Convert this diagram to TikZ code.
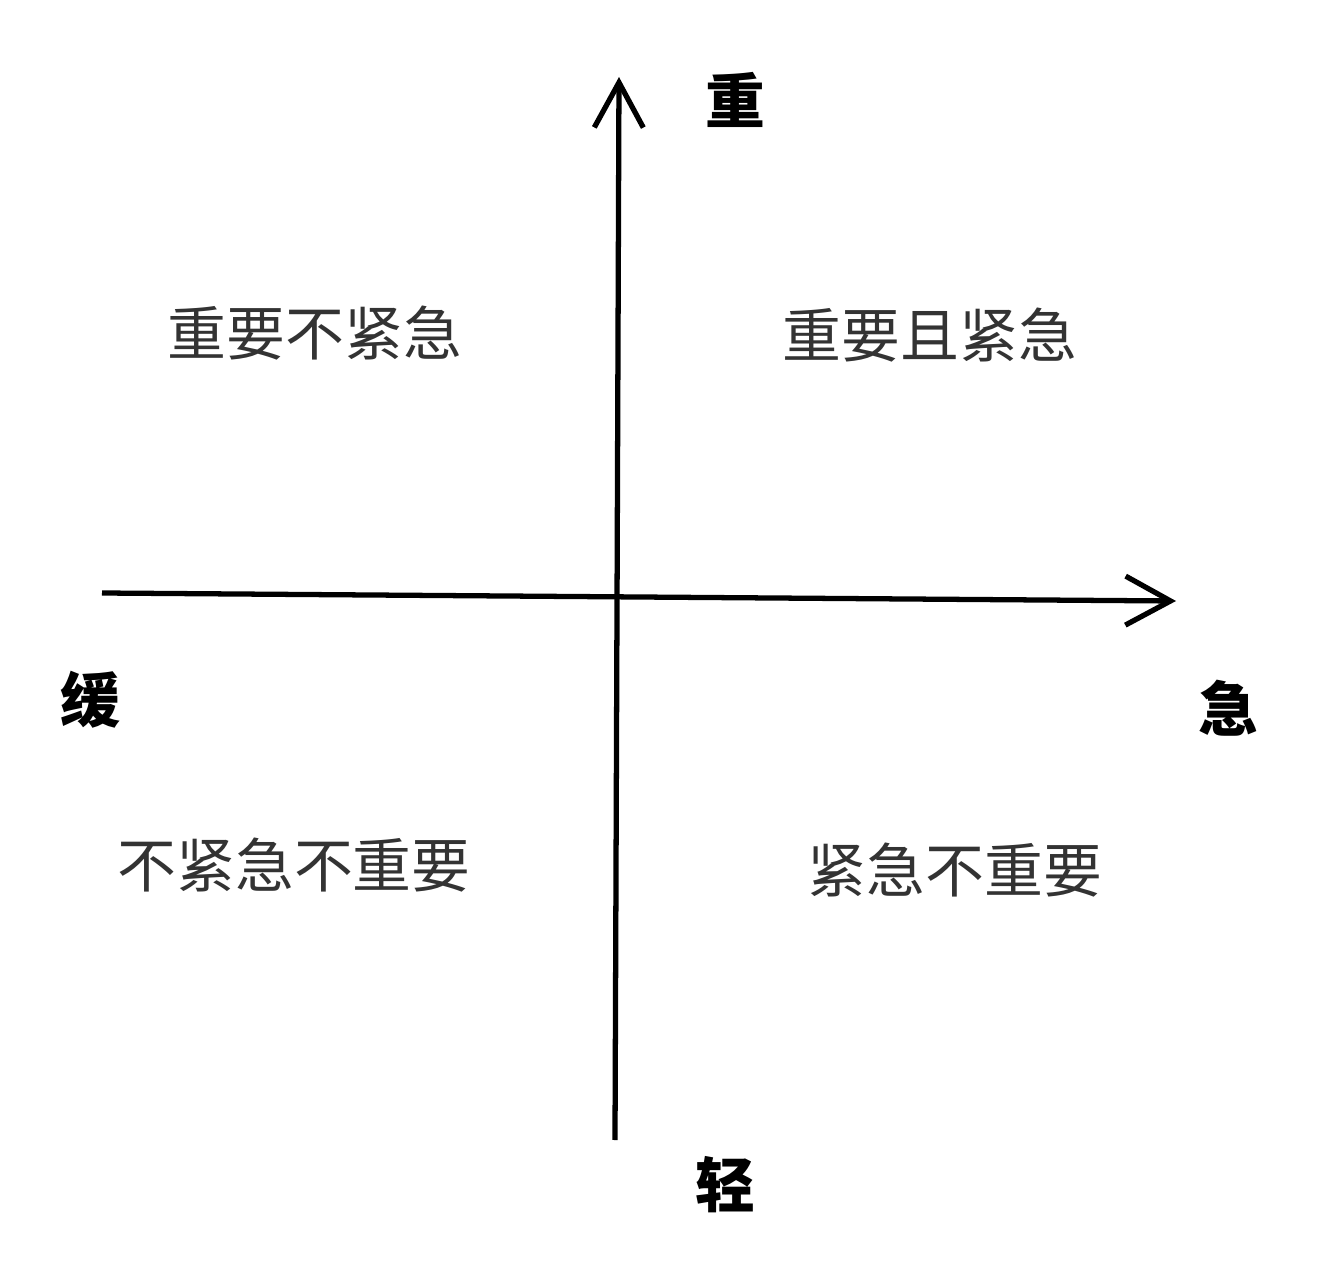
\documentclass[tikz,border=0pt]{standalone}
\usepackage{fontspec}
\newfontfamily\cjk{Noto Sans CJK SC}
\usetikzlibrary{arrows.meta}
\begin{document}
\begin{tikzpicture}[x=0.02cm,y=-0.02cm,
  axis/.style={line width=3pt,-{Straight Barb[length=0.9cm,width=0.98cm,line width=3pt]}},
  axislabel/.style={font=\cjk\bfseries\fontsize{34pt}{34pt}\selectfont,text=black,inner sep=0pt},
  quadlabel/.style={font=\cjk\fontsize{33.5pt}{33.5pt}\selectfont,text=black!80,inner sep=0pt}]
\useasboundingbox (0,0) rectangle (1340,1280);
\coordinate (xs) at (102,593);
\coordinate (xe) at (1176,601);
\coordinate (ys) at (615,1140);
\coordinate (ye) at (619,77);
\draw[axis] (xs) -- (xe);
\draw[axis] (ys) -- (ye);
\node[axislabel] (zhong) at (735,100) {重};
\node[axislabel] (qing) at (725,1185) {轻};
\node[axislabel] (huan) at (90,700) {缓};
\node[axislabel] (ji) at (1228,708) {急};
\node[quadlabel] (q2) at (315,333) {重要不紧急};
\node[quadlabel] (q1) at (930,335) {重要且紧急};
\node[quadlabel] (q3) at (294,865) {不紧急不重要};
\node[quadlabel] (q4) at (955,870) {紧急不重要};
\end{tikzpicture}
\end{document}
